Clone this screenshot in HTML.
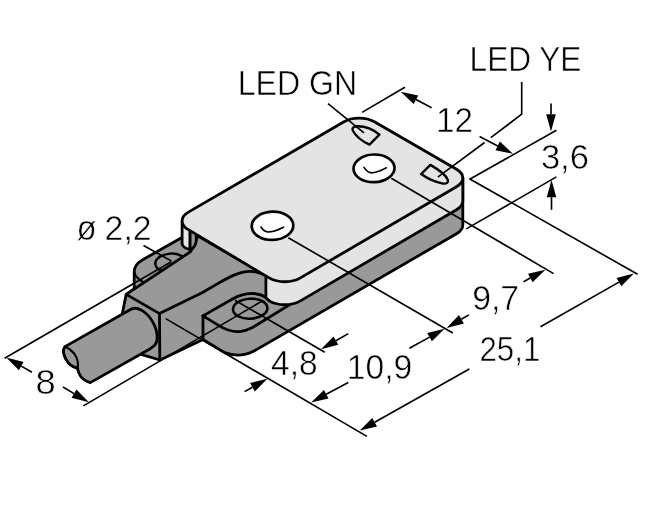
<!DOCTYPE html>
<html><head><meta charset="utf-8">
<style>
html,body{margin:0;padding:0;background:#fff;}
svg{display:block;filter:grayscale(1);}
text{font-family:"Liberation Sans",sans-serif;fill:#000;stroke:#fff;stroke-width:0.55px;paint-order:fill stroke;}
.o{stroke:#000;stroke-width:2.8;stroke-linejoin:round;stroke-linecap:round;}
.t{stroke:#000;stroke-width:1.65;fill:none;stroke-linecap:butt;}
.m{stroke:#000;stroke-width:2.1;fill:none;stroke-linecap:round;stroke-linejoin:round;}
.d{fill:#999;}
.l{fill:#e4e4e4;}
.n{fill:none;}
polygon{fill:#000;stroke:none;}
</style></head><body>
<svg width="646" height="527" viewBox="0 0 646 527">
<rect width="646" height="527" fill="#fff"/>

<!-- dark silhouette -->
<path class="o d" d="M181.5,237.7 L143.5,259.3 Q134.2,264.3 134.2,272 L134.2,289 L126.2,294.4 L122.2,314 L124,340 L141,354.4 L160,360 L203,339.5 L224.7,352.6 Q239.5,358.5 254,351 L456.51,233.72 A21.50,12.41 0 0 0 462.80,224.95 L462.80,177.95 L300,230 L200,236 Z"/>

<!-- back lug details -->
<path class="m" d="M134.4,272.5 Q135.5,277.5 142.9,282"/>
<ellipse class="m" style="stroke-width:2.5" cx="170.6" cy="262.9" rx="15.3" ry="9.3" transform="rotate(-4 170.6 262.9)"/>

<!-- block (redraw fill to hide lug parts) -->
<path class="o d" d="M126.2,294.4 L190.6,251.7 L198,236 L266,275.5 L264.5,275 Q258,271.4 250,271.4 C239,271.5 228,277.6 216.9,284.1 L202.1,292.8 L159.5,313.6 Z"/>
<path class="o n" d="M159.5,313.6 L159.8,360"/>
<path class="o n" d="M203,315.9 L203,339.5"/>

<!-- front lug -->
<path class="o n" d="M203,315.9 L232,299.2 Q241,294 252,293.4 Q260,293.6 265.9,297.2"/>
<path class="o n" d="M203,315.9 L218.5,325.4 Q230,332.5 239.5,331.6 Q246,331 252,327.8 L290,304.5"/>
<ellipse class="m" style="stroke-width:2.6" cx="250.2" cy="308.7" rx="17.2" ry="10" transform="rotate(-3 250.2 308.7)"/>

<!-- plate sides -->
<path class="o l" d="M265.9,275 L265.9,297.93 L269.61,301.13 A21.50,12.41 0 0 0 299.99,301.13 L456.51,209.72 A21.50,12.41 0 0 0 462.80,200.95 L462.80,177.95 L300,240 Z"/>
<path class="o" fill="#e6e6e6" d="M182.1,221 L182.1,244 Q183,248 190.1,249.5 L190.1,229 Z"/>
<path class="o d" d="M190.1,230 L190.1,250.5 Q196.6,246 196.3,239.5 L196,233 Z"/>
<!-- top face -->
<path class="o l" d="M188.39,212.13 L344.01,121.77 A21.50,12.41 0 0 1 374.39,121.77 L456.51,169.18 A21.50,12.41 0 0 1 456.51,186.72 L299.99,278.13 A21.50,12.41 0 0 1 269.61,278.13 L188.39,229.67 A21.50,12.41 0 0 1 188.39,212.13 Z"/>

<!-- top-face details -->
<ellipse class="o" style="stroke-width:2.7" fill="#fff" cx="374" cy="168.3" rx="20.5" ry="13.8" transform="rotate(-2 374 168.3)"/>
<path class="t" style="stroke-linecap:round" d="M364.1,167.4 Q367.5,173.2 372.5,172.8 Q378,172.3 386.4,167.8"/>
<ellipse class="o" style="stroke-width:2.7" fill="#fff" cx="272.5" cy="225.8" rx="20.8" ry="14.1" transform="rotate(-2 272.5 225.8)"/>
<path class="t" style="stroke-linecap:round" d="M261,227 Q264.5,232.5 269.3,231.9 Q275,231.5 283.5,227.2"/>
<path class="m n" style="stroke-width:2.4" d="M356.5,126.2 Q351,127.2 353,131 Q358,139.5 369.5,144.6 L379.4,134.7 Q369.4,125.8 356.5,126.2 Z"/>
<path class="m n" style="stroke-width:2.4" d="M430.4,164.9 L421.1,174.1 Q432,181.8 443,183.6 Q448.8,184 447.9,180 Q446,174 430.4,164.9 Z"/>

<!-- cable -->
<path class="o d" d="M65,346.6 L131,309.3 A21.7,12.5 60 0 1 152.7,346.9 L148.5,349.8 L90.3,382.6 Q84,381 80.5,376 Q78,372 77.6,368.4 Q70,366.5 66,359.5 Q61.5,351 65,346.6 Z"/>
<path class="m" fill="#b8b8b8" d="M65,346.6 Q61.5,351 66,359.5 Q70,366.5 77.6,368.4 Q79,360.5 74.5,354 Q70.5,348.8 65,346.6 Z"/>

<!-- dimension lines -->
<g id="dims">
<path class="t" d="M4.6,358.3 L171.3,261.8"/>
<path class="t" d="M83.4,405.9 L262.2,301"/>
<path class="t" d="M143.5,245.5 L171.4,261"/>
<path class="t" d="M328,103.7 L364,132.8"/>
<path class="t" d="M521.7,82 L521.7,114.2 L490.8,137.7 M484.6,142.5 L437.8,177.2"/>
<path class="t" d="M362.1,112.4 L404.9,87.2"/>
<path class="t" d="M469.7,179.3 L556.4,130.3"/>
<path class="t" d="M466.3,228.9 L556.4,176.9"/>
<path class="t" d="M469.4,178.7 L637.6,274.3"/>
<path class="t" d="M391.3,178.3 L553.6,273.6"/>
<path class="t" d="M288.3,237.7 L452.8,333"/>
<path class="t" d="M165.7,318.6 L366.9,436.4"/>
<path class="t" d="M235,300.3 L324.8,352.2"/>
<path class="t" d="M32.0,372.2 L21.3,366.1"/><polygon points="6.3,357.6 18.9,370.3 23.6,361.9"/>
<path class="t" d="M63.0,387.0 L74.1,393.6"/><polygon points="88.9,402.3 76.5,389.4 71.6,397.7"/>
<path class="t" d="M431.6,107.8 L416.0,99.6"/><polygon points="400.7,91.7 413.7,103.9 418.2,95.4"/>
<path class="t" d="M479.6,136.5 L497.7,145.9"/><polygon points="513.0,153.8 499.9,141.6 495.5,150.2"/>
<path class="t" d="M551.0,103.5 L551.0,114.3"/><polygon points="551.0,131.5 555.8,114.3 546.2,114.3"/>
<path class="t" d="M551.5,209.8 L551.5,197.2"/><polygon points="551.5,180.0 546.7,197.2 556.3,197.2"/>
<path class="t" d="M523.6,281.7 L530.3,278.0"/><polygon points="545.4,269.8 528.0,273.8 532.6,282.3"/>
<path class="t" d="M468.9,314.9 L461.4,319.3"/><polygon points="446.6,328.0 463.9,323.4 459.0,315.1"/>
<path class="t" d="M409.4,348.3 L429.6,337.1"/><polygon points="444.6,328.8 427.2,332.9 431.9,341.3"/>
<path class="t" d="M348.3,382.4 L326.2,394.3"/><polygon points="311.1,402.5 328.5,398.5 324.0,390.1"/>
<path class="t" d="M348.3,333.6 L335.9,340.7"/><polygon points="321.0,349.2 338.3,344.8 333.6,336.5"/>
<path class="t" d="M244.6,391.6 L252.4,387.2"/><polygon points="267.4,378.8 250.1,383.0 254.8,391.4"/>
<path class="t" d="M540.5,326.8 L619.0,282.1"/><polygon points="633.9,273.6 616.6,277.9 621.3,286.3"/>
<path class="t" d="M469.3,369.0 L374.7,422.2"/><polygon points="359.7,430.6 377.0,426.4 372.3,418.0"/>
</g>

<!-- text -->
<g id="txt" font-size="35.3">
<text x="237.7" y="94.8" textLength="119.5" lengthAdjust="spacingAndGlyphs">LED GN</text>
<text x="469.6" y="70.5" textLength="111.7" lengthAdjust="spacingAndGlyphs">LED YE</text>
<text x="436.1" y="131.8" textLength="37.0" lengthAdjust="spacingAndGlyphs">12</text>
<text x="540.9" y="168.8" textLength="48.0" lengthAdjust="spacingAndGlyphs">3,6</text>
<text x="472.2" y="309.5" textLength="46.9" lengthAdjust="spacingAndGlyphs">9,7</text>
<text x="479.5" y="360.6" textLength="60.8" lengthAdjust="spacingAndGlyphs">25,1</text>
<text x="346.8" y="378.5" textLength="65.5" lengthAdjust="spacingAndGlyphs">10,9</text>
<text x="271.0" y="375.0" textLength="46.6" lengthAdjust="spacingAndGlyphs">4,8</text>
<text x="35.6" y="394.0" textLength="20.2" lengthAdjust="spacingAndGlyphs">8</text>
<text x="76.6" y="240.0" textLength="20.1" lengthAdjust="spacingAndGlyphs">ø</text>
<text x="104.6" y="239.6" textLength="47.1" lengthAdjust="spacingAndGlyphs">2,2</text>
</g>
</svg>
</body></html>
